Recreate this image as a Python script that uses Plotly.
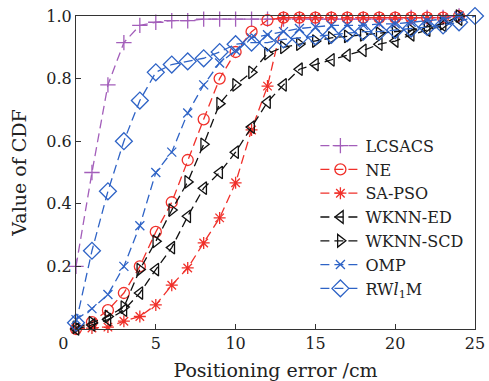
import plotly.graph_objects as go

x24 = list(range(0, 25))
x25 = list(range(0, 26))

lcsacs = [0.20, 0.50, 0.78, 0.915, 0.97, 0.98, 0.985, 0.985, 0.99, 0.99, 0.99, 0.99, 0.99,
          0.99, 0.99, 0.99, 0.99, 0.99, 0.99, 0.99, 0.99, 0.995, 0.995, 0.995, 1.0]
ne = [0.0, 0.022, 0.06, 0.115, 0.20, 0.31, 0.405, 0.54, 0.67, 0.80, 0.885, 0.95, 0.987,
      0.995, 0.995, 0.995, 0.995, 0.995, 0.995, 0.995, 0.995, 0.995, 0.995, 0.995, 1.0]
sapso = [0.0, 0.003, 0.006, 0.025, 0.04, 0.077, 0.14, 0.195, 0.275, 0.355, 0.467, 0.636, 0.776,
         0.995, 0.995, 0.995, 0.995, 0.995, 0.995, 0.995, 0.995, 0.995, 0.995, 0.995, 1.0]
wknn_ed = [0.0, 0.013, 0.03, 0.06, 0.115, 0.19, 0.26, 0.36, 0.45, 0.50, 0.565, 0.645, 0.725,
           0.78, 0.83, 0.845, 0.86, 0.875, 0.89, 0.91, 0.92, 0.94, 0.955, 0.97, 0.99]
wknn_scd = [0.005, 0.02, 0.04, 0.07, 0.19, 0.28, 0.38, 0.47, 0.59, 0.72, 0.78, 0.82, 0.88,
            0.90, 0.91, 0.92, 0.93, 0.935, 0.94, 0.945, 0.95, 0.955, 0.965, 0.975, 1.0]
omp = [0.03, 0.065, 0.11, 0.20, 0.33, 0.50, 0.565, 0.69, 0.78, 0.85, 0.89, 0.93, 0.94,
       0.95, 0.96, 0.965, 0.97, 0.97, 0.97, 0.975, 0.975, 0.98, 0.985, 0.99, 1.0]
rwl1m = [0.02, 0.25, 0.44, 0.60, 0.73, 0.82, 0.845, 0.855, 0.865, 0.885, 0.91, 0.915, 0.915,
         0.925, 0.93, 0.935, 0.94, 0.945, 0.95, 0.95, 0.955, 0.96, 0.965, 0.97, 0.98, 1.0]

x_ticks = [0, 5, 10, 15, 20, 25]
x_ticktext = ["0" + "&nbsp;" * 5, "5", "10", "15", "20", "25"]
y_ticks = [0.2, 0.4, 0.6, 0.8, 1.0]
y_ticktext = ["0.2", "0.4", "0.6", "0.8", "1.0"]

PURPLE = "#A35EBA"
RED = "#F0302A"
BLACK = "#111111"
BLUE = "#2E63C6"

series = [
    ("LCSACS", x24, lcsacs, PURPLE, "cross-thin-open", 11),
    ("NE", x24, ne, RED, "circle-open", 11),
    ("SA-PSO", x24, sapso, RED, "asterisk-open", 10),
    ("WKNN-ED", x24, wknn_ed, BLACK, "triangle-left-open", 11),
    ("WKNN-SCD", x24, wknn_scd, BLACK, "triangle-right-open", 11),
    ("OMP", x24, omp, BLUE, "x-thin-open", 9),
    ("RW<i>l</i><sub>1</sub>M", x25, rwl1m, BLUE, "diamond-open", 13),
]

FONT = "DejaVu Serif"
L, R, T, B = 76, 14, 16, 52
W, H = 489, 381

fig = go.Figure()
for name, xs, ys, col, sym, sz in series:
    fig.add_trace(go.Scatter(
        x=xs, y=ys, name=name, mode="lines+markers",
        line=dict(color=col, width=1.3, dash="9px,5px"),
        marker=dict(symbol=sym, size=sz, color=col, line=dict(color=col, width=1.3)),
        cliponaxis=False,
    ))

fig.update_layout(
    width=W, height=H,
    margin=dict(l=L, r=R, t=T, b=B),
    paper_bgcolor="white", plot_bgcolor="white",
    font=dict(family=FONT, size=16, color="#222"),
    showlegend=True,
    legend=dict(x=0.6, y=0.64, xanchor="left", yanchor="top",
                bgcolor="rgba(0,0,0,0)", borderwidth=0, itemwidth=40,
                font=dict(family=FONT, size=16, color="#222"),
                tracegroupgap=0),
)

fig.update_xaxes(range=[0, 25], tickvals=x_ticks, ticktext=x_ticktext, ticks="inside",
                 ticklen=5, tickcolor="#333", showline=True, linecolor="#333", linewidth=1.2,
                 mirror=True, showgrid=False, zeroline=False, automargin=False,
                 title=dict(text="Positioning error /cm", standoff=14),
                 tickfont=dict(family=FONT, size=16))
fig.update_yaxes(range=[0, 1.0], tickvals=y_ticks, ticktext=y_ticktext, ticks="inside",
                 ticklen=5, tickcolor="#333", showline=True, linecolor="#333", linewidth=1.2,
                 mirror=True, showgrid=False, zeroline=False, automargin=False,
                 title=dict(text="Value of CDF", standoff=14),
                 tickfont=dict(family=FONT, size=16))

fig.write_html("out.html")
